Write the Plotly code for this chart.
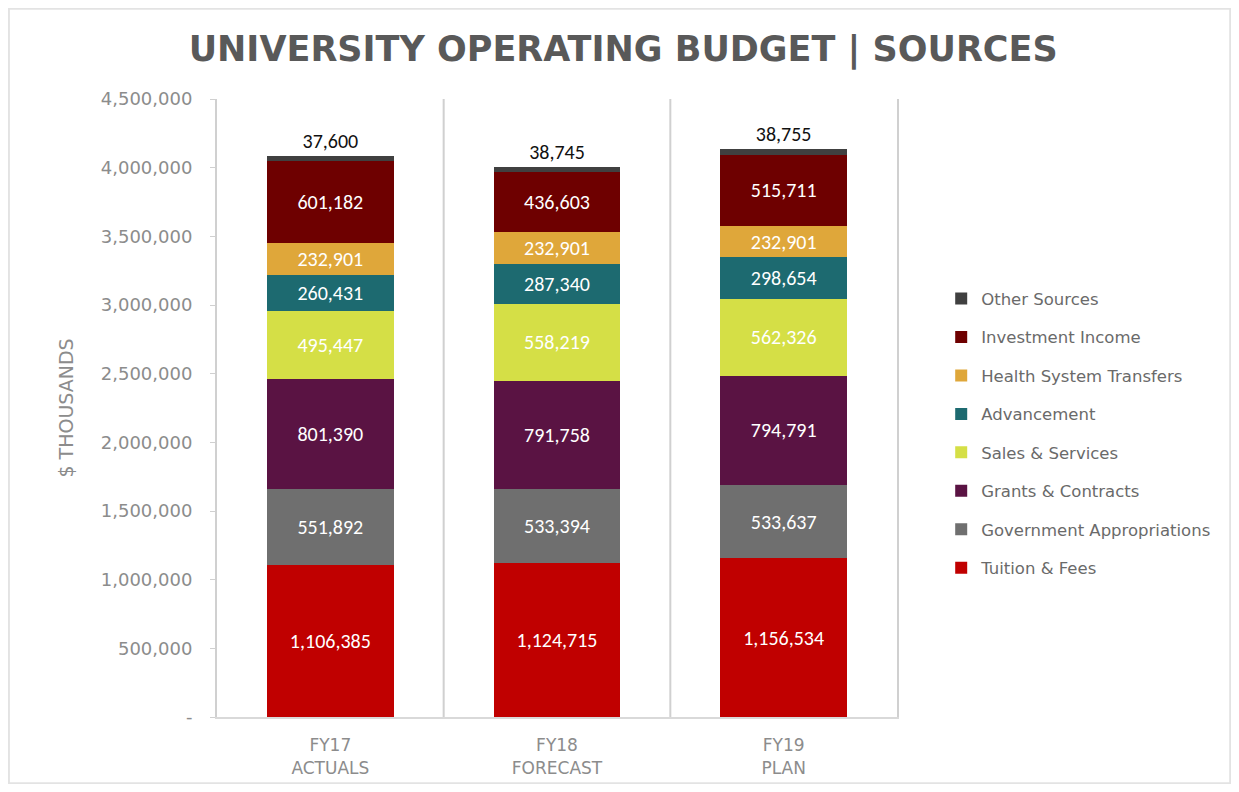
import plotly.graph_objects as go

years = ["FY17<br>ACTUALS", "FY18<br>FORECAST", "FY19<br>PLAN"]

tuition = [1106385, 1124715, 1156534]
government = [551892, 533394, 533637]
grants = [801390, 791758, 794791]
sales = [495447, 558219, 562326]
advancement = [260431, 287340, 298654]
health = [232901, 232901, 232901]
investment = [601182, 436603, 515711]
other = [37600, 38745, 38755]

y_ticks = [0, 500000, 1000000, 1500000, 2000000, 2500000, 3000000, 3500000, 4000000, 4500000]
y_ticktext = ["-"] + [f"{v:,}" for v in y_ticks[1:]]

series = [
    ("Tuition & Fees", tuition, "#C00000"),
    ("Government Appropriations", government, "#6F6F6F"),
    ("Grants & Contracts", grants, "#5A1343"),
    ("Sales & Services", sales, "#D5DF46"),
    ("Advancement", advancement, "#1D6A70"),
    ("Health System Transfers", health, "#DFA73A"),
    ("Investment Income", investment, "#6E0000"),
    ("Other Sources", other, "#404040"),
]

label_font = "Carlito, Liberation Sans, Open Sans, sans-serif"
axis_font = "DejaVu Sans, sans-serif"

fig = go.Figure()
for i, (name, vals, color) in enumerate(series):
    top = name == "Other Sources"
    fig.add_trace(go.Bar(
        x=years,
        y=vals,
        name=name,
        marker=dict(color=color, line=dict(width=0)),
        width=0.56,
        texttemplate="%{y:,}",
        textposition="outside" if top else "inside",
        insidetextanchor="middle",
        textangle=0,
        constraintext="none",
        textfont=dict(size=20, color="#111111" if top else "white", family=label_font),
        cliponaxis=False,
        legendgroup=str(i),
        legendrank=len(series) - i,
    ))

fig.update_layout(
    barmode="stack",
    width=1223,
    height=776,
    plot_bgcolor="white",
    paper_bgcolor="white",
    margin=dict(l=209, r=334, t=91, b=67),
    title=dict(
        text="<b>UNIVERSITY OPERATING BUDGET | SOURCES</b>",
        x=0.503,
        xanchor="center",
        y=0.948,
        yanchor="middle",
        font=dict(family="DejaVu Sans, sans-serif", size=35, color="#595959"),
    ),
    legend=dict(
        x=1.065,
        xanchor="left",
        y=0.705,
        yanchor="top",
        traceorder="grouped",
        tracegroupgap=14,
        font=dict(family=axis_font, size=16.5, color="#6A6A6A"),
        itemwidth=30,
    ),
    font=dict(family=axis_font, color="#8C8C8C"),
    bargap=0.44,
)

fig.update_yaxes(
    range=[0, 4500000],
    tickvals=y_ticks,
    ticktext=y_ticktext,
    tickfont=dict(size=18, color="#8C8C8C"),
    showgrid=False,
    zeroline=False,
    showline=True,
    mirror=True,
    linecolor="#D0D0D0",
    linewidth=2,
    ticks="outside",
    ticklen=5,
    tickcolor="#D0D0D0",
    ticklabelstandoff=14,
    automargin=False,
    title=dict(text="$ THOUSANDS", font=dict(size=19, color="#8C8C8C"), standoff=22),
)

fig.update_xaxes(
    tickfont=dict(size=17, color="#8C8C8C"),
    showgrid=False,
    showline=True,
    linecolor="#D9D9D9",
    linewidth=2,
    ticks="",
    ticklabelstandoff=12,
    automargin=False,
)

for xb in [0.5, 1.5]:
    fig.add_shape(type="line", xref="x", yref="paper", x0=xb, x1=xb, y0=0, y1=1,
                  line=dict(color="#D0D0D0", width=2), layer="below")

fig.add_shape(type="rect", xref="paper", yref="paper", x0=-0.306, x1=1.49, y0=-0.107, y1=1.146,
              line=dict(color="#E3E3E3", width=2))

fig.write_html("out.html")
